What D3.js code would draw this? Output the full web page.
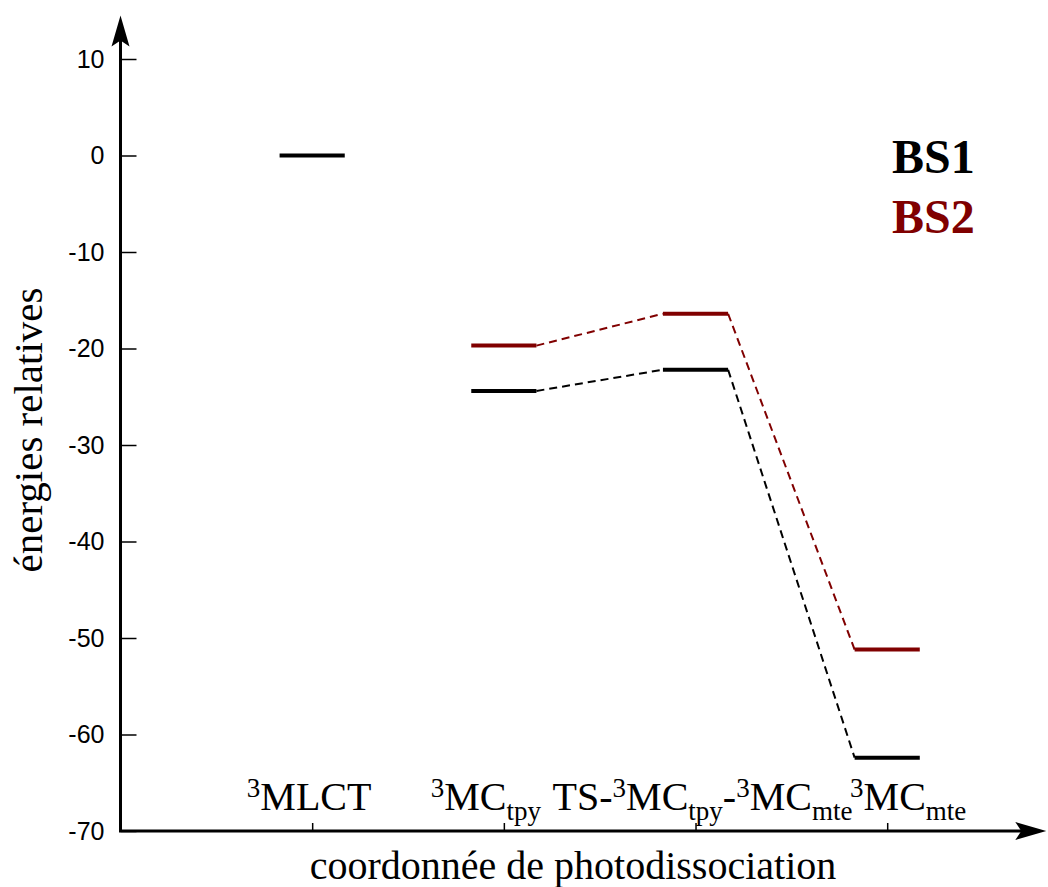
<!DOCTYPE html>
<html>
<head>
<meta charset="utf-8">
<script src="https://cdn.jsdelivr.net/npm/d3@7"></script>
<style>
  html, body { margin: 0; padding: 0; background: #fff; }
  svg { display: block; }
</style>
</head>
<body>
<svg id="chart" width="1048" height="887"></svg>
<script>
// ---- data ----
const categories = ["3MLCT", "3MCtpy", "TS", "3MCmte"];
const categoryPos = [1, 2, 3, 4];
// label parts: [text, role] role: n = normal, sup = superscript, sub = subscript
const categoryLabels = [
  [["3", "sup"], ["MLCT", "n"]],
  [["3", "sup"], ["MC", "n"], ["tpy", "sub"]],
  [["TS-", "n"], ["3", "sup"], ["MC", "n"], ["tpy", "sub"], ["-", "n"], ["3", "sup"], ["MC", "n"], ["mte", "sub"]],
  [["3", "sup"], ["MC", "n"], ["mte", "sub"]]
];
const labelShift = [-3, -18, 7, 21];
const bs1Values = [0, -24.4, -22.2, -62.4];
const bs2Values = [null, -19.7, -16.4, -51.2];
const yTicks = [10, 0, -10, -20, -30, -40, -50, -60, -70];
const seriesNames = ["BS1", "BS2"];
const seriesColors = ["#000000", "#800000"];

// ---- scales ----
const svg = d3.select("#chart");
const x = d3.scaleLinear().domain([0, 4]).range([120.5, 887.2]);
const y = d3.scaleLinear().domain([-70, 10]).range([831, 59]);
const halfW = 0.17; // bar half width in category units
const xMax = 4.83, yMax = 14.5;

// ---- axes ----
const yAxis = d3.axisLeft(y).tickValues(yTicks).tickSizeInner(-16).tickSizeOuter(0).tickPadding(16)
  .tickFormat(d => d3.format("d")(d).replace("−", "-"));
const gy = svg.append("g").attr("transform", `translate(${x(0)},0)`).call(yAxis);
gy.select(".domain").remove();
gy.selectAll(".tick line").attr("stroke", "#000").attr("stroke-width", 1.5);
gy.selectAll(".tick text").attr("font-family", "Liberation Sans, Arial, sans-serif")
  .attr("font-size", 25).attr("fill", "#000");

const xAxis = d3.axisBottom(x).tickValues(categoryPos).tickSizeInner(-8).tickSizeOuter(0).tickFormat("");
const gx = svg.append("g").attr("transform", `translate(0,${y(-70)})`).call(xAxis);
gx.select(".domain").remove();
gx.selectAll(".tick line").attr("stroke", "#000").attr("stroke-width", 1.5);

// axis lines with arrowheads
svg.append("line").attr("x1", x(0)).attr("y1", y(-70)).attr("x2", x(0)).attr("y2", y(yMax) + 20)
  .attr("stroke", "#000").attr("stroke-width", 3);
svg.append("line").attr("x1", x(0) - 1.5).attr("y1", y(-70)).attr("x2", x(xMax) - 20).attr("y2", y(-70))
  .attr("stroke", "#000").attr("stroke-width", 3);
// y arrow
{
  const tx = x(0), ty = y(yMax);
  svg.append("path").attr("d", `M${tx},${ty} L${tx + 9},${ty + 31} L${tx},${ty + 25} L${tx - 9},${ty + 31} Z`).attr("fill", "#000");
}
// x arrow
{
  const tx = x(xMax), ty = y(-70);
  svg.append("path").attr("d", `M${tx},${ty} L${tx - 31},${ty - 9} L${tx - 25},${ty} L${tx - 31},${ty + 9} Z`).attr("fill", "#000");
}

// ---- series ----
const series = [bs1Values, bs2Values];
series.forEach((vals, si) => {
  const color = seriesColors[si];
  const pts = categoryPos.map((p, i) => ({ p, v: vals[i] })).filter(d => d.v !== null);
  // level bars
  svg.append("g").selectAll("line").data(pts).join("line")
    .attr("x1", d => x(d.p - halfW)).attr("x2", d => x(d.p + halfW))
    .attr("y1", d => y(d.v)).attr("y2", d => y(d.v))
    .attr("stroke", color).attr("stroke-width", 4);
  // dashed connectors (from 3MCtpy onward)
  const conn = [];
  for (let i = 1; i < pts.length; i++) {
    if (pts[i - 1].p >= 2) conn.push([pts[i - 1], pts[i]]);
  }
  svg.append("g").selectAll("line").data(conn).join("line")
    .attr("x1", d => x(d[0].p + halfW)).attr("y1", d => y(d[0].v))
    .attr("x2", d => x(d[1].p - halfW)).attr("y2", d => y(d[1].v))
    .attr("stroke", color).attr("stroke-width", 2).attr("stroke-dasharray", "8,5");
});

// ---- category labels ----
const lab = svg.append("g").attr("font-family", "Liberation Serif, Times New Roman, serif").attr("fill", "#000");
categoryLabels.forEach((parts, i) => {
  const t = lab.append("text").attr("x", x(categoryPos[i]) + labelShift[i]).attr("y", 810)
    .attr("text-anchor", "middle").attr("font-size", 40);
  let cur = 0;
  parts.forEach(([s, role]) => {
    const target = role === "sup" ? -13 : role === "sub" ? 10 : 0;
    t.append("tspan").attr("dy", target - cur).attr("font-size", role === "n" ? 40 : 27).text(s);
    cur = target;
  });
});

// ---- axis titles ----
svg.append("text").attr("x", 573).attr("y", 879).attr("text-anchor", "middle")
  .attr("font-family", "Liberation Serif, Times New Roman, serif").attr("font-size", 40).attr("fill", "#000")
  .text("coordonnée de photodissociation");
svg.append("text").attr("transform", "translate(42,430) rotate(-90)").attr("text-anchor", "middle")
  .attr("font-family", "Liberation Serif, Times New Roman, serif").attr("font-size", 41).attr("fill", "#000")
  .text("énergies relatives");

// ---- legend ----
svg.append("g").selectAll("text").data(seriesNames).join("text")
  .attr("x", 892).attr("y", (d, i) => 173 + i * 60)
  .attr("font-family", "Liberation Serif, Times New Roman, serif").attr("font-weight", "bold").attr("font-size", 48)
  .attr("fill", (d, i) => seriesColors[i]).text(d => d);
</script>
</body>
</html>
